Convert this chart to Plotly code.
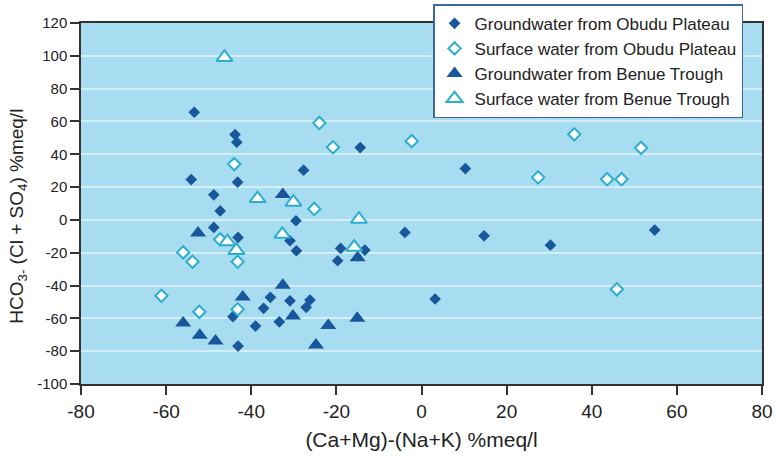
import plotly.graph_objects as go

# (Ca+Mg)-(Na+K) and HCO3-(Cl+SO4), both in %meq/l
gw_obudu_x = [-53.4, -43.8, -43.4, -14.4, -27.7, -54.1, -43.2, -48.8, -47.3, -29.5,
              -48.8, -43.1, -30.9, -29.4, -19.0, -13.3, -19.7, -35.5, -30.9, -26.2,
              -27.1, -37.1, -44.3, -39.0, -33.4, -43.1, 10.3, -3.9, 14.7, 3.2,
              30.3, 54.8]
gw_obudu_y = [65.6, 52.0, 47.4, 44.1, 30.3, 24.6, 23.0, 15.3, 5.5, -0.5,
              -4.6, -10.7, -12.7, -18.8, -17.4, -18.4, -24.9, -47.2, -49.3, -48.8,
              -53.3, -53.9, -59.0, -64.7, -62.1, -76.9, 31.3, -7.6, -9.7, -48.2,
              -15.4, -6.2]

sw_obudu_x = [-24.0, -20.8, -44.0, -25.2, -47.3, -43.2, -56.0, -53.8, -61.1, -52.2,
              -43.2, -2.3, 35.9, 51.6, 27.4, 43.6, 47.0, 45.9]
sw_obudu_y = [59.1, 44.3, 34.0, 6.7, -11.9, -25.5, -19.8, -25.5, -46.2, -56.0,
              -54.5, 48.0, 52.2, 43.9, 25.9, 24.8, 24.8, -42.3]

gw_benue_x = [-32.6, -52.5, -15.0, -32.6, -42.0, -30.2, -56.0, -21.9, -15.1, -52.1,
              -48.4, -24.8]
gw_benue_y = [15.5, -8.0, -23.0, -39.8, -47.0, -58.6, -62.8, -64.3, -60.0, -70.3,
              -73.8, -76.2]

sw_benue_x = [-46.3, -38.5, -30.1, -14.7, -45.6, -43.5, -32.7, -15.8]
sw_benue_y = [99.0, 13.0, 10.8, 0.4, -13.3, -18.6, -8.8, -16.6]

x_ticks = [-80, -60, -40, -20, 0, 20, 40, 60, 80]
y_ticks = [-100, -80, -60, -40, -20, 0, 20, 40, 60, 80, 100, 120]

DARK = "#18579b"
LIGHT = "#2aaed0"
TEXT = "#222222"
FONT = "Liberation Sans, Arial, sans-serif"

fig = go.Figure()
fig.add_trace(go.Scatter(
    x=gw_obudu_x, y=gw_obudu_y, mode="markers",
    name="Groundwater from Obudu Plateau",
    marker=dict(symbol="diamond", size=9, color=DARK, line=dict(width=0)),
))
fig.add_trace(go.Scatter(
    x=sw_obudu_x, y=sw_obudu_y, mode="markers",
    name="Surface water from Obudu Plateau",
    marker=dict(symbol="diamond", size=9.5, color="white",
                line=dict(width=2, color=LIGHT)),
))
fig.add_trace(go.Scatter(
    x=gw_benue_x, y=gw_benue_y, mode="markers",
    name="Groundwater from Benue Trough",
    marker=dict(symbol="triangle-up", size=14, color=DARK, line=dict(width=0)),
))
fig.add_trace(go.Scatter(
    x=sw_benue_x, y=sw_benue_y, mode="markers",
    name="Surface water from Benue Trough",
    marker=dict(symbol="triangle-up", size=14, color="white",
                line=dict(width=2, color=LIGHT)),
))

# rotated y-axis title with subscripts, placed beside the plot
fig.add_annotation(
    text="HCO<sub>3-</sub> (Cl + SO<sub>4</sub>) %meq/l",
    xref="paper", yref="paper", x=(18 - 80.5) / 682, y=(384 - 216) / 361.3,
    xanchor="center", yanchor="middle", textangle=-90, showarrow=False,
    font=dict(size=19, color=TEXT, family=FONT),
)

fig.update_layout(
    width=776, height=461,
    margin=dict(l=80.5, r=13.5, t=22.7, b=77, autoexpand=False),
    paper_bgcolor="white",
    plot_bgcolor="#a8dcf0",
    font=dict(family=FONT, color=TEXT),
    showlegend=True,
    legend=dict(
        x=0.517, y=1.052, xanchor="left", yanchor="top",
        bgcolor="white", bordercolor="#3b6a96", borderwidth=1.5,
        font=dict(size=17, color=TEXT, family=FONT),
        tracegroupgap=0, itemwidth=30,
    ),
    xaxis=dict(
        range=[-80, 80], tickvals=x_ticks, ticktext=[str(v) for v in x_ticks],
        showgrid=False, zeroline=False,
        showline=True, linecolor="#333333", linewidth=1.5, mirror=True,
        ticks="outside", ticklen=9, tickwidth=1.5, tickcolor="#333333",
        tickfont=dict(size=19, color=TEXT),
        title=dict(text="(Ca+Mg)-(Na+K) %meq/l", font=dict(size=21, color=TEXT),
                   standoff=12),
    ),
    yaxis=dict(
        range=[-100, 120], tickvals=y_ticks, ticktext=[str(v) for v in y_ticks],
        showgrid=True, gridcolor="#d4eef8", gridwidth=2,
        zeroline=False,
        showline=True, linecolor="#333333", linewidth=1.5, mirror=True,
        ticks="outside", ticklen=9, tickwidth=1.5, tickcolor="#333333",
        tickfont=dict(size=15, color=TEXT),
    ),
)

fig.write_html("out.html")
